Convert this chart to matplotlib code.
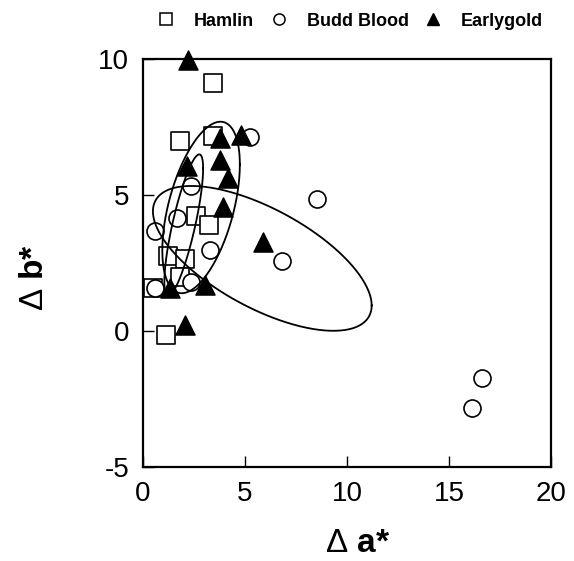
import numpy as np
import matplotlib
matplotlib.use('Agg')
import matplotlib.pyplot as plt
from matplotlib.lines import Line2D

plt.rcParams['font.family'] = ['Liberation Sans', 'DejaVu Sans']
plt.rcParams['mathtext.fontset'] = 'custom'
plt.rcParams['mathtext.rm'] = 'Liberation Sans'
plt.rcParams['mathtext.bf'] = 'Liberation Sans:bold'

# Delta a* / Delta b* values per cultivar
hamlin_a = [3.43, 1.80, 3.43, 2.61, 3.24, 1.23, 2.04, 1.80, 0.49, 1.14]
hamlin_b = [9.13, 6.98, 7.16, 4.22, 3.92, 2.75, 2.65, 2.01, 1.59, -0.13]

budd_a = [5.23, 2.37, 1.68, 0.60, 3.27, 2.37, 0.57, 6.80, 8.51, 16.60, 16.15]
budd_b = [7.14, 5.32, 4.16, 3.67, 2.97, 1.83, 1.59, 2.57, 4.87, -1.70, -2.82]

early_a = [2.20, 3.76, 4.82, 3.76, 4.17, 2.17, 3.90, 5.90, 3.02, 1.31, 2.04]
early_b = [9.96, 7.10, 7.22, 6.30, 5.63, 6.06, 4.55, 3.27, 1.71, 1.59, 0.24]

# ellipses: centre, half ranges and correlation (narrow, medium, large)
ell_cx = [2.00, 2.85, 5.85]
ell_cy = [3.90, 4.55, 2.68]
ell_sx = [0.95, 1.90, 5.36]
ell_sy = [2.60, 3.15, 2.66]
ell_r = [0.80, 0.50, -0.65]

x_ticks = [0, 5, 10, 15, 20]
y_ticks = [-5, 0, 5, 10]


def draw_ellipse(ax, cx, cy, sx, sy, r):
    t = np.linspace(0, 2 * np.pi, 300)
    phi = np.arccos(r)
    x = cx + sx * np.cos(t)
    y = cy + sy * np.cos(t + phi)
    ax.plot(x, y, color='black', lw=1.3, zorder=5)


def run():
    fig = plt.figure(figsize=(5.74, 5.61), dpi=100)
    ax = fig.add_axes([0.249, 0.1667, 0.711, 0.728])

    ax.scatter(hamlin_a, hamlin_b, marker='s', s=150, facecolor='white',
               edgecolor='black', linewidth=1.2, zorder=3)
    ax.scatter(budd_a, budd_b, marker='o', s=150, facecolor='white',
               edgecolor='black', linewidth=1.2, zorder=3)
    ax.scatter(early_a, early_b, marker='^', s=190, facecolor='black',
               edgecolor='black', linewidth=1.0, zorder=4, clip_on=False)

    for i in range(len(ell_cx)):
        draw_ellipse(ax, ell_cx[i], ell_cy[i], ell_sx[i], ell_sy[i], ell_r[i])

    ax.set_xlim(0, 20)
    ax.set_ylim(-5, 10)
    ax.set_xticks(x_ticks)
    ax.set_yticks(y_ticks)
    ax.set_xticklabels([str(v) for v in x_ticks])
    ax.set_yticklabels([str(v) for v in y_ticks])
    ax.tick_params(direction='in', length=8, width=1, labelsize=20, pad=10)
    for sp in ax.spines.values():
        sp.set_linewidth(1.6)

    ax.set_xlabel(r'Δ $\mathbf{a{*}}$', fontsize=24)
    ax.set_ylabel(r'Δ $\mathbf{b{*}}$', fontsize=24)
    ax.xaxis.set_label_coords(0.525, -0.148)
    ax.yaxis.set_label_coords(-0.228, 0.466)

    handles = [
        Line2D([], [], marker='s', ls='none', ms=8, mfc='white', mec='black', mew=1.1),
        Line2D([], [], marker='o', ls='none', ms=8, mfc='white', mec='black', mew=1.1),
        Line2D([], [], marker='^', ls='none', ms=9, mfc='black', mec='black'),
    ]
    fig.legend(handles, ['Hamlin', 'Budd Blood', 'Earlygold'], ncol=3,
               loc='center', bbox_to_anchor=(0.606, 0.962), frameon=False,
               prop={'weight': 'bold', 'size': 13}, handletextpad=0.8,
               columnspacing=0.6, handlelength=1.5)

    fig.savefig('out.png', dpi=100)


if __name__ == '__main__':
    run()
